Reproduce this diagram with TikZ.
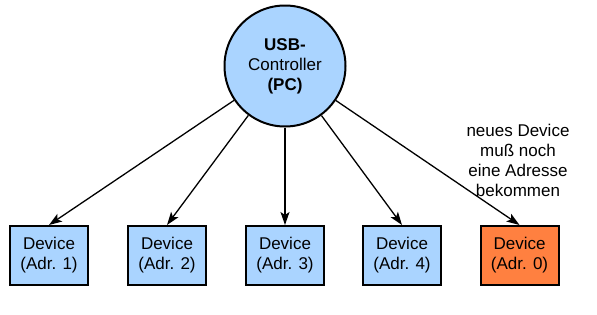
\documentclass[tikz,border=0pt]{standalone}
\usepackage{fontspec}
\setmainfont{Liberation Sans}
\usetikzlibrary{arrows.meta}
\definecolor{hellblau}{RGB}{170,212,255}
\definecolor{neuorange}{RGB}{255,128,64}
\tikzset{
  device/.style={draw, line width=2pt, fill=hellblau, minimum width=78pt, minimum height=59pt, align=center, inner sep=0pt, font=\fontsize{17}{20}\selectfont},
  verbindung/.style={line width=1.3pt, -{Stealth[length=13pt,width=9pt,inset=3pt]}}
}

\begin{document}
\begin{tikzpicture} [x=1pt,y=-1pt]
            \useasboundingbox (0,0) rectangle (597,314);
            \node[circle, draw, line width=2pt, fill=hellblau, minimum size=121pt, inner sep=0pt, align=center, font=\fontsize{17}{20}\selectfont] (ctrl) at (285,66) {\textbf{USB-}\\Controller\\\textbf{(PC)}};
            \node[device] (dev1) at (49,255.5) {Device\\(Adr. 1)};
            \node[device] (dev2) at (167,255.5) {Device\\(Adr. 2)};
            \node[device] (dev3) at (285,255.5) {Device\\(Adr. 3)};
            \node[device] (dev4) at (402,255.5) {Device\\(Adr. 4)};
            \node[device, fill=neuorange] (dev0) at (519.5,255.5) {Device\\(Adr. 0)};
            \node[align=center, font=\fontsize{17}{20}\selectfont] (hinweis) at (518,160) {neues Device\\mu\ss{} noch\\eine Adresse\\bekommen};
            \foreach \d in {dev1,dev2,dev3,dev4,dev0}
              \draw[verbindung] (ctrl) -- (\d.north);
        \end{tikzpicture}
\end{document}
